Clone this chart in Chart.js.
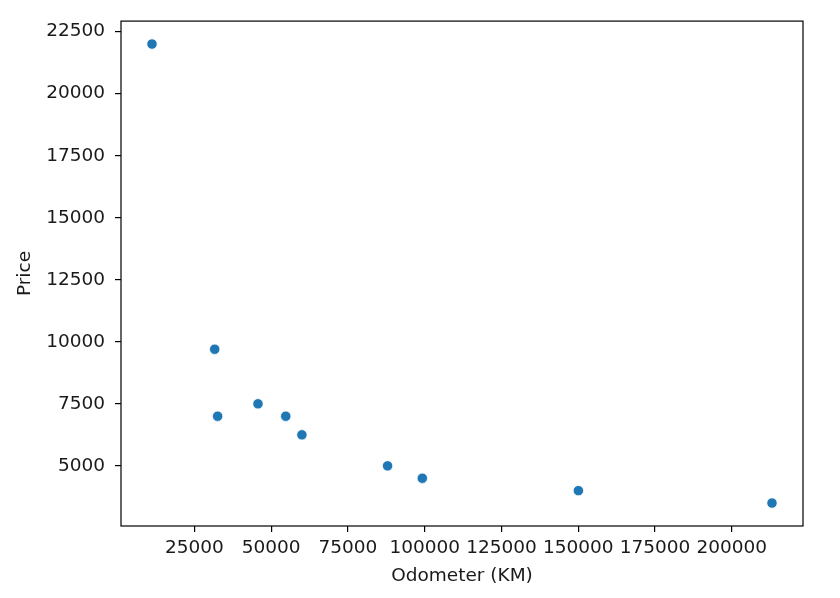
<!DOCTYPE html>
<html>
<head>
<meta charset="utf-8">
<script src="https://cdn.jsdelivr.net/npm/chart.js@4/dist/chart.umd.min.js"></script>
<style>
html,body{margin:0;padding:0;background:#fff;}
#c{display:block;}
</style>
</head>
<body>
<canvas id="c" width="840" height="598"></canvas>
<script>
const odometer = [150043, 87899, 32549, 11179, 213095, 99213, 45698, 54738, 60000, 31600];
const price = [4000, 5000, 7000, 22000, 3500, 4500, 7500, 7000, 6250, 9700];
const xTicks = [25000, 50000, 75000, 100000, 125000, 150000, 175000, 200000];
const yTicks = [5000, 7500, 10000, 12500, 15000, 17500, 20000, 22500];
const xLabel = 'Odometer (KM)';
const yLabel = 'Price';

function marginRange(arr) {
  const lo = Math.min(...arr), hi = Math.max(...arr);
  const m = (hi - lo) * 0.05;
  return [lo - m, hi + m];
}
const [xMin, xMax] = marginRange(odometer);
const [yMin, yMax] = marginRange(price);

const FONT = {family: 'DejaVu Sans', size: 18.5};
const TXT = '#1a1a1a';

const boxPlugin = {
  id: 'box',
  beforeDatasetsDraw(chart) {
    const {ctx, chartArea: a} = chart;
    ctx.save();
    ctx.strokeStyle = '#000';
    ctx.lineWidth = 1.2;
    ctx.strokeRect(a.left, a.top, a.right - a.left, a.bottom - a.top);
    ctx.restore();
  }
};

new Chart(document.getElementById('c'), {
  type: 'scatter',
  data: {
    datasets: [{
      data: odometer.map((x, i) => ({x: x, y: price[i]})),
      backgroundColor: '#1f77b4',
      borderColor: '#ffffff',
      borderWidth: 0.8,
      pointRadius: 5.2,
      pointHoverRadius: 5.2
    }]
  },
  options: {
    responsive: false,
    animation: false,
    devicePixelRatio: 1,
    layout: {padding: {top: 19, right: 37, left: 0, bottom: 0}},
    plugins: {legend: {display: false}, tooltip: {enabled: false}},
    scales: {
      x: {
        type: 'linear',
        min: xMin, max: xMax,
        afterBuildTicks(s) { s.ticks = xTicks.map(v => ({value: v})); },
        afterFit(s) { s.height = 72; },
        grid: {display: true, drawOnChartArea: false, drawTicks: true, tickLength: 6, color: '#000', lineWidth: 1.2},
        border: {display: false},
        ticks: {color: TXT, font: FONT, padding: 5, maxRotation: 0, autoSkip: false,
                callback: v => String(v)},
        title: {display: true, text: xLabel, color: TXT, font: FONT, padding: {top: 0, bottom: 11}}
      },
      y: {
        type: 'linear',
        min: yMin, max: yMax,
        afterBuildTicks(s) { s.ticks = yTicks.map(v => ({value: v})); },
        afterFit(s) { s.width = 121; },
        grid: {display: true, drawOnChartArea: false, drawTicks: true, tickLength: 6, color: '#000', lineWidth: 1.2},
        border: {display: false},
        ticks: {color: TXT, font: FONT, padding: 10, autoSkip: false,
                callback: v => String(v)},
        title: {display: true, text: yLabel, color: TXT, font: FONT, padding: {top: 14, bottom: 0}}
      }
    }
  },
  plugins: [boxPlugin]
});
</script>
</body>
</html>
